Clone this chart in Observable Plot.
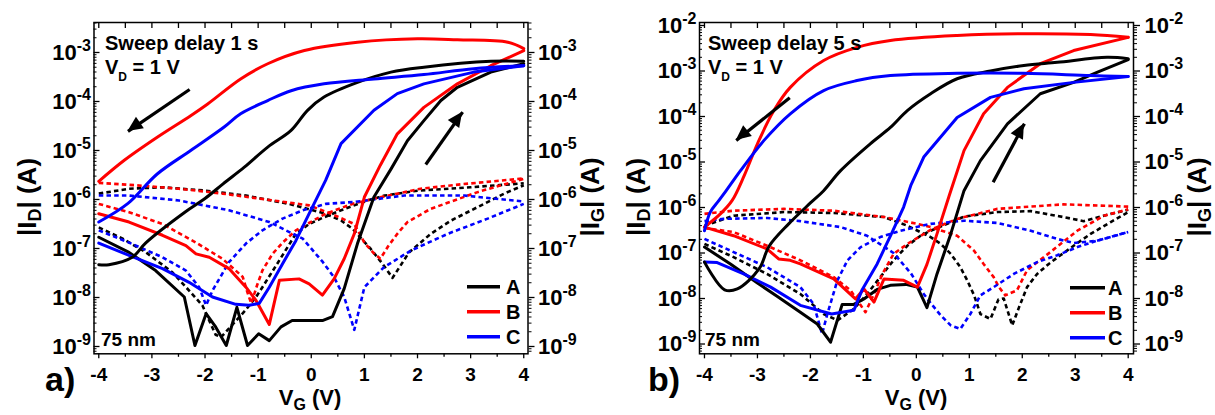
<!DOCTYPE html>
<html><head><meta charset="utf-8">
<script src="https://cdn.jsdelivr.net/npm/d3@7"></script>
<script src="https://cdn.jsdelivr.net/npm/@observablehq/plot@0.6"></script>
<style>
html,body{margin:0;padding:0;background:#fff;}
#wrap{position:relative;width:1215px;height:415px;overflow:hidden;background:#fff;}
#wrap svg{position:absolute;top:0;}
</style></head><body><div id="wrap"></div>
<script>
// ---------- shared axis values ----------
const vgTicks = [-4, -3, -2, -1, 0, 1, 2, 3, 4];
const vgMinor = [-3.5, -2.5, -1.5, -0.5, 0.5, 1.5, 2.5, 3.5];
const decadesA = [-9, -8, -7, -6, -5, -4, -3];
const decadesB = [-9, -8, -7, -6, -5, -4, -3, -2];
const devices = ["A", "B", "C"];
const deviceColors = ["#000000", "#ff0000", "#0000ff"];

// ---------- panel a (sweep delay 1 s) : [V_G (V), log10 |I| (A)] ----------
// drain current |I_D| (solid), forward sweep -4 -> 4 and backward sweep 4 -> -4
const aA_fwd = [[-4,-6.77],[-3.43,-7.08],[-2.93,-7.45],[-2.39,-7.99],[-2.19,-8.98],[-1.98,-8.33],[-1.80,-8.60],[-1.60,-8.98],[-1.40,-8.20],[-1.20,-8.98],[-0.99,-8.74],[-0.79,-8.88],[-0.57,-8.60],[-0.36,-8.47],[0.21,-8.47],[0.40,-8.39],[0.62,-7.82],[0.87,-6.90],[1.18,-5.95],[1.50,-5.38],[1.81,-4.80],[2.12,-4.39],[2.44,-3.98],[2.75,-3.71],[3.38,-3.40],[4,-3.23]];
const aA_bwd = [[4,-3.18],[3.38,-3.18],[2.12,-3.30],[1.5,-3.40],[0.87,-3.61],[0.24,-3.91],[-0.07,-4.18],[-0.38,-4.59],[-0.82,-4.93],[-1.26,-5.34],[-1.66,-5.68],[-2.0,-5.98],[-2.38,-6.26],[-3.11,-6.88],[-3.37,-7.18],[-3.81,-7.33],[-4,-7.33]];
const aB_fwd = [[-4,-6.29],[-3.43,-6.46],[-2.80,-6.73],[-2.36,-6.94],[-2.17,-7.11],[-1.92,-7.18],[-1.55,-7.41],[-1.23,-7.79],[-1.04,-8.06],[-0.79,-8.55],[-0.60,-7.65],[-0.23,-7.62],[-0.04,-7.72],[0.21,-7.95],[0.43,-7.62],[0.62,-7.21],[0.81,-6.70],[1.0,-5.95],[1.3,-5.3],[1.62,-4.66],[2.12,-4.12],[2.75,-3.64],[3.38,-3.27],[4,-2.96]];
const aB_bwd = [[4,-2.92],[3.7,-2.79],[2.75,-2.74],[2.0,-2.72],[0.87,-2.79],[-0.13,-2.96],[-0.82,-3.23],[-1.33,-3.54],[-1.95,-4.05],[-2.27,-4.29],[-2.9,-4.73],[-3.52,-5.2],[-4,-5.63]];
const aC_fwd = [[-4,-6.89],[-3.43,-7.14],[-2.80,-7.41],[-2.30,-7.69],[-1.86,-7.99],[-1.42,-8.14],[-1.17,-8.16],[-0.98,-8.12],[-0.79,-7.79],[-0.54,-7.31],[-0.29,-6.84],[-0.04,-6.29],[0.27,-5.61],[0.56,-4.86],[1.18,-4.18],[1.62,-3.84],[2.12,-3.64],[3.06,-3.40],[4,-3.27]];
const aC_bwd = [[4,-3.27],[3.06,-3.33],[2.12,-3.45],[1.18,-3.54],[0.24,-3.64],[-0.38,-3.78],[-0.82,-3.98],[-1.33,-4.25],[-1.64,-4.52],[-2.27,-5.0],[-2.9,-5.48],[-3.45,-6.08],[-4,-6.46]];
// gate current |I_G| (dotted), two branches per device
const aA_g1 = [[-4,-5.88],[-3.43,-5.78],[-2.80,-5.75],[-1.98,-5.82],[-1.23,-5.92],[-0.42,-6.09],[0.27,-6.29],[0.56,-6.43],[0.78,-6.60],[1.12,-7.01],[1.34,-7.31],[1.53,-7.60],[1.84,-7.08],[2.25,-6.70],[2.63,-6.43],[2.94,-6.26],[3.25,-6.09],[3.63,-5.88],[4.0,-5.71]];
const aA_g2 = [[-4,-6.57],[-3.55,-6.80],[-3.11,-7.08],[-2.61,-7.49],[-2.24,-7.93],[-2.05,-8.16],[-1.80,-8.76],[-1.70,-8.81],[-1.48,-8.55],[-1.23,-8.25],[-1.04,-7.99],[-0.92,-7.79],[-0.64,-7.31],[-0.29,-6.70],[-0.04,-6.50],[0.18,-6.39],[0.56,-6.22],[1.06,-6.02],[1.38,-5.92],[2.0,-5.82],[3.0,-5.75],[4.0,-5.67]];
const aB_g1 = [[-4,-5.66],[-3.30,-5.71],[-2.49,-5.78],[-1.67,-5.88],[-0.92,-5.99],[-0.04,-6.12],[0.37,-6.29],[0.81,-6.50],[1.0,-6.88],[1.18,-7.1],[1.30,-7.21],[1.45,-6.95],[1.62,-6.70],[1.81,-6.46],[2.25,-6.19],[2.69,-6.02],[3.13,-5.85],[3.57,-5.71],[4.0,-5.58]];
const aB_g2 = [[-4,-6.09],[-3.43,-6.26],[-2.80,-6.50],[-2.17,-6.88],[-1.67,-7.21],[-1.29,-7.58],[-1.2,-7.9],[-1.13,-8.12],[-1.02,-7.75],[-0.92,-7.45],[-0.73,-7.11],[-0.54,-6.88],[-0.29,-6.63],[0.27,-6.29],[0.8,-6.08],[1.32,-5.95],[2.06,-5.78],[2.82,-5.69],[4.0,-5.57]];
const aC_g1 = [[-4,-5.92],[-3.43,-5.92],[-2.49,-6.02],[-1.55,-6.22],[-0.79,-6.46],[-0.16,-6.80],[0.22,-7.28],[0.43,-7.59],[0.62,-7.99],[0.81,-8.66],[1.0,-7.79],[1.37,-7.38],[1.88,-7.04],[2.57,-6.70],[3.32,-6.39],[4.0,-6.09]];
const aC_g2 = [[-4,-6.63],[-3.43,-6.88],[-2.80,-7.18],[-2.36,-7.45],[-2.11,-7.79],[-1.98,-8.16],[-1.86,-7.86],[-1.55,-7.28],[-1.23,-6.90],[-0.92,-6.63],[-0.54,-6.39],[-0.16,-6.22],[0.27,-6.09],[0.81,-6.05],[1.75,-5.92],[2.88,-5.92],[3.81,-6.02],[4.0,-6.04]];
// sweep-direction arrows [V1, log10 I1, V2, log10 I2]
const aArrows = [[-2.29,-3.755,-3.45,-4.61],[2.155,-5.286,2.85,-4.218]];

// ---------- panel b (sweep delay 5 s) ----------
const bA_fwd = [[-4,-6.87],[-3.51,-7.24],[-3.0,-7.66],[-2.63,-7.95],[-2.19,-8.3],[-1.87,-8.56],[-1.62,-8.96],[-1.40,-8.13],[-1.18,-8.13],[-0.99,-8.01],[-0.74,-7.80],[-0.49,-7.71],[-0.2,-7.69],[0.02,-7.75],[0.2,-8.20],[0.39,-7.46],[0.65,-6.58],[0.90,-5.63],[1.21,-4.97],[1.72,-4.16],[2.34,-3.50],[2.97,-3.25],[3.41,-3.03],[4,-2.75]];
const bA_bwd = [[4,-2.73],[3.6,-2.70],[2.66,-2.81],[2.03,-2.88],[1.40,-3.0],[0.77,-3.17],[0.27,-3.50],[-0.17,-3.87],[-0.49,-4.24],[-0.87,-4.60],[-1.43,-5.19],[-1.75,-5.63],[-2.0,-5.9],[-2.41,-6.36],[-2.78,-6.85],[-2.97,-7.35],[-3.38,-7.79],[-3.62,-7.81],[-4,-7.20]];
const bB_fwd = [[-4,-6.43],[-3.45,-6.62],[-2.82,-6.91],[-2.60,-7.13],[-2.38,-7.16],[-2.19,-7.24],[-1.56,-7.57],[-1.15,-8.01],[-0.99,-7.79],[-0.80,-8.08],[-0.61,-7.57],[-0.24,-7.60],[0.02,-7.75],[0.2,-7.25],[0.39,-6.58],[0.62,-5.74],[0.9,-4.75],[1.27,-3.94],[1.72,-3.36],[2.34,-2.84],[2.97,-2.55],[4,-2.26]];
const bB_bwd = [[4,-2.26],[3.29,-2.20],[2.03,-2.18],[0.77,-2.22],[-0.49,-2.33],[-1.12,-2.48],[-1.75,-2.77],[-2.38,-3.36],[-2.69,-3.87],[-3.0,-4.60],[-3.25,-5.3],[-3.48,-5.85],[-3.70,-6.14],[-4,-6.43]];
const bC_fwd = [[-4,-7.20],[-3.76,-7.21],[-3.26,-7.46],[-2.75,-7.75],[-2.19,-8.15],[-1.60,-8.34],[-1.18,-8.26],[-1.02,-7.8],[-0.74,-7.24],[-0.46,-6.55],[-0.24,-5.99],[-0.1,-5.5],[0.14,-4.89],[0.77,-4.02],[1.40,-3.58],[2.03,-3.39],[2.97,-3.25],[4,-3.12]];
const bC_bwd = [[4,-3.12],[3.29,-3.10],[2.03,-3.05],[0.77,-3.05],[-0.49,-3.10],[-1.12,-3.21],[-1.75,-3.43],[-2.38,-3.94],[-2.88,-4.53],[-3.32,-5.19],[-3.48,-5.45],[-3.73,-5.85],[-3.89,-6.1],[-4,-6.51]];
const bA_g1 = [[-4,-6.40],[-3.45,-6.18],[-2.5,-6.10],[-1.56,-6.12],[-0.61,-6.21],[-0.17,-6.40],[0.27,-6.65],[0.46,-6.80],[0.65,-7.02],[0.83,-7.31],[0.96,-7.60],[1.09,-7.93],[1.21,-8.34],[1.40,-8.45],[1.55,-8.02],[1.65,-8.0],[1.81,-8.59],[1.94,-8.19],[2.09,-7.75],[2.28,-7.46],[2.50,-7.24],[2.72,-7.05],[2.97,-6.84],[3.29,-6.58],[3.67,-6.32],[4.0,-6.1]];
const bA_g2 = [[-4,-6.8],[-3.45,-7.09],[-2.82,-7.46],[-2.19,-7.90],[-1.75,-8.34],[-1.49,-8.48],[-1.18,-8.23],[-0.93,-7.90],[-0.68,-7.53],[-0.43,-7.16],[-0.17,-6.84],[0.08,-6.62],[0.27,-6.51],[0.9,-6.2],[1.53,-6.10],[2.16,-6.08],[2.78,-6.21],[3.16,-6.30],[3.54,-6.18],[4.0,-6.05]];
const bB_g1 = [[-4,-6.14],[-3.45,-6.07],[-2.50,-6.03],[-1.56,-6.07],[-0.61,-6.21],[0.02,-6.36],[0.27,-6.43],[0.77,-6.62],[1.09,-6.95],[1.27,-7.24],[1.46,-7.53],[1.56,-7.75],[1.68,-7.93],[1.90,-7.82],[2.09,-7.38],[2.53,-6.98],[3.04,-6.51],[3.54,-6.18],[4.0,-6.04]];
const bB_g2 = [[-4,-6.45],[-3.45,-6.54],[-2.82,-6.84],[-2.19,-7.16],[-1.56,-7.53],[-1.24,-7.82],[-1.05,-8.15],[-0.96,-8.30],[-0.80,-7.90],[-0.64,-7.46],[-0.43,-7.02],[-0.17,-6.80],[0.27,-6.49],[0.77,-6.25],[1.53,-6.03],[2.78,-5.93],[4.0,-5.98]];
const bC_g1 = [[-4,-6.3],[-3.64,-6.25],[-2.82,-6.23],[-2.19,-6.30],[-1.43,-6.43],[-0.93,-6.62],[-0.43,-7.0],[-0.1,-7.45],[0.14,-7.90],[0.27,-8.1],[0.46,-8.37],[0.65,-8.59],[0.83,-8.67],[1.02,-8.34],[1.21,-7.93],[1.46,-7.75],[1.84,-7.46],[2.28,-7.20],[2.66,-7.05],[3.04,-6.87],[3.41,-6.73],[4.0,-6.54]];
const bC_g2 = [[-4,-6.69],[-3.45,-6.98],[-2.82,-7.31],[-2.19,-7.75],[-1.94,-8.12],[-1.78,-8.78],[-1.68,-8.34],[-1.49,-7.60],[-1.30,-7.16],[-1.05,-6.87],[-0.68,-6.65],[-0.30,-6.51],[0.27,-6.36],[0.9,-6.29],[1.53,-6.34],[2.16,-6.51],[2.66,-6.69],[2.97,-6.78],[3.41,-6.73],[4.0,-6.54]];
const bArrows = [[-2.39,-3.589,-3.40,-4.527],[1.45,-5.444,2.04,-4.16]];

const FONT = "'Liberation Sans', Arial, Helvetica, sans-serif";
const SVGNS = "http://www.w3.org/2000/svg";

function buildRows(list) {
  return list.flatMap(([id, dev, kind, smooth, pts]) =>
    pts.map(([v, l]) => ({id, dev, kind, smooth, v, i: 10 ** l})));
}

function minorTicks(lo, hi) {
  const out = [];
  for (let d = Math.floor(lo) - 1; d <= Math.ceil(hi); d++)
    for (let m = 2; m <= 9; m++) {
      const v = m * 10 ** d;
      if (Math.log10(v) > lo && Math.log10(v) < hi) out.push(v);
    }
  return out;
}

function addRich(svg, {x, y, transform, anchor = "start", size, parts}) {
  const t = d3.select(svg).append("text")
    .attr("font-family", FONT).attr("font-weight", "bold")
    .attr("text-anchor", anchor).attr("fill", "black")
    .style("white-space", "pre").style("font-size", size + "px");
  if (transform) t.attr("transform", transform); else t.attr("x", x).attr("y", y);
  let shift = 0;
  for (const p of parts) {
    const [txt, off, sz] = typeof p === "string" ? [p, 0, null] : p;
    const ts = t.append("tspan").text(txt);
    if (off - shift) ts.attr("dy", off - shift);
    shift = off;
    if (sz) ts.style("font-size", sz + "px");
  }
  return t;
}

function makePanel(cfg) {
  const rows = buildRows(cfg.series);
  const dec = cfg.decades.map(d => 10 ** d);
  const minors = minorTicks(cfg.yDom[0], cfg.yDom[1]);
  const fmt = d => "10^" + Math.round(Math.log10(d));
  const arrows = cfg.arrows.map(([v1, l1, v2, l2]) => ({v1, v2, i1: 10 ** l1, i2: 10 ** l2}));
  const lineCommon = {x: "v", y: "i", z: "id", stroke: "dev"};
  const svg = Plot.plot({
    width: cfg.width, height: 415,
    marginLeft: cfg.ml, marginRight: cfg.mr, marginTop: 22, marginBottom: 61.7,
    style: {fontFamily: FONT, fontWeight: "bold", fontSize: "18px", color: "black", background: "white", overflow: "visible"},
    x: {domain: cfg.xDom, axis: null},
    y: {type: "log", domain: [10 ** cfg.yDom[0], 10 ** cfg.yDom[1]], axis: null},
    color: {domain: devices, range: deviceColors},
    marks: [
      Plot.line(rows.filter(r => r.kind === "G"), {...lineCommon, strokeWidth: 2.6, strokeDasharray: "4.5,3.2", strokeLinecap: "butt", curve: "linear"}),
      Plot.line(rows.filter(r => r.kind === "D" && !r.smooth), {...lineCommon, strokeWidth: 3, curve: "linear"}),
      Plot.line(rows.filter(r => r.kind === "D" && r.smooth), {...lineCommon, strokeWidth: 3, curve: "catmull-rom"}),
      Plot.link(arrows, {x1: "v1", y1: "i1", x2: "v2", y2: "i2", stroke: "black", strokeWidth: 3.2}),
      Plot.frame({stroke: "black", strokeWidth: 1.5}),
      Plot.axisX({anchor: "bottom", ticks: vgTicks, tickSize: 5, tickPadding: 9, tickFormat: d => String(d), label: null, strokeWidth: 1.3}),
      Plot.axisX({anchor: "bottom", ticks: vgMinor, tickSize: 3.5, fill: "none", label: null, strokeWidth: 1.3}),
      Plot.axisX({anchor: "top", ticks: vgTicks.concat(vgMinor), tickSize: 5, dy: 5, fill: "none", label: null, strokeWidth: 1.3}),
      Plot.axisY({anchor: "left", ticks: dec, tickSize: 0, tickPadding: cfg.lPad, tickFormat: fmt, label: null}),
      Plot.axisY({anchor: "left", ticks: dec, tickSize: 6, dx: 6, fill: "none", label: null, strokeWidth: 1.3}),
      Plot.axisY({anchor: "left", ticks: minors, tickSize: 3, dx: 3, fill: "none", label: null, strokeWidth: 1}),
      Plot.axisY({anchor: "right", ticks: dec, tickSize: 6, fill: "none", label: null, strokeWidth: 1.3}),
      Plot.axisY({anchor: "right", ticks: minors, tickSize: 3, fill: "none", label: null, strokeWidth: 1}),
      Plot.axisY({anchor: "right", ticks: dec, tickSize: 0, tickPadding: cfg.rPad, tickFormat: fmt, label: null})
    ]
  });
  // tick label styling; superscript exponents
  svg.querySelectorAll("text").forEach(t => {
    const s = t.textContent;
    const m = /^10\^(-?\d+)$/.exec(s);
    if (m) {
      t.textContent = "";
      t.setAttribute("font-size", "22");
      t.style.fontSize = "22px";
      t.style.fontFamily = FONT;
      t.style.fontWeight = "bold";
      const a = document.createElementNS(SVGNS, "tspan");
      a.textContent = "10"; a.style.fontSize = "22px"; t.appendChild(a);
      const b = document.createElementNS(SVGNS, "tspan");
      b.textContent = m[1]; b.setAttribute("dy", "-9"); b.style.fontSize = "16px"; t.appendChild(b);
    } else if (/^-?\d$/.test(s)) {
      t.setAttribute("font-size", "19");
      t.style.fontSize = "19px";
      t.style.fontFamily = FONT;
      t.style.fontWeight = "bold";
    }
  });
  // filled arrow heads, placed through the plot's own scales
  const sx = svg.scale("x"), sy = svg.scale("y");
  arrows.forEach(a => {
    const x1 = sx.apply(a.v1), y1 = sy.apply(a.i1), x2 = sx.apply(a.v2), y2 = sy.apply(a.i2);
    const len = Math.hypot(x2 - x1, y2 - y1), ux = (x2 - x1) / len, uy = (y2 - y1) / len;
    const hl = 15, hw = 7;
    const bx = x2 - ux * hl, by = y2 - uy * hl;
    const pts = [[x2, y2], [bx - uy * hw, by + ux * hw], [bx + uy * hw, by - ux * hw]];
    d3.select(svg).append("polygon").attr("points", pts.map(p => p.join(",")).join(" ")).attr("fill", "black");
  });
  const L = cfg.deco;
  devices.forEach((dv, k) => {
    const yy = L.legY[k];
    d3.select(svg).append("line").attr("x1", L.legX[0]).attr("x2", L.legX[1]).attr("y1", yy).attr("y2", yy)
      .attr("stroke", deviceColors[k]).attr("stroke-width", 3.5);
    addRich(svg, {x: L.legX[2], y: yy + 7, size: 20, parts: [dv]});
  });
  addRich(svg, {x: L.txtX, y: 49.5, size: 20, parts: [cfg.title]});
  addRich(svg, {x: L.txtX, y: 74, size: 20, parts: ["V", ["D", 7, 12], [" = 1 V", 0]]});
  addRich(svg, {x: L.nmX, y: 345.5, size: 19, parts: ["75 nm"]});
  addRich(svg, {x: L.xTitle, y: 405, anchor: "middle", size: 22, parts: ["V", ["G", 5, 16], [" (V)", 0]]});
  addRich(svg, {transform: `translate(${L.yL},197) rotate(-90)`, anchor: "middle", size: 26, parts: ["|I", ["D", 5, 18], ["| (A)", 0]]});
  addRich(svg, {transform: `translate(${L.yR},197) rotate(-90)`, anchor: "middle", size: 26, parts: ["|I", ["G", 5, 18], ["| (A)", 0]]});
  addRich(svg, {x: L.tagX, y: 391, size: 34, parts: [cfg.tag]});
  return svg;
}

const panelA = makePanel({
  width: 610, ml: 93.5, mr: 82.5, xDom: [-4.09, 4.08], yDom: [-9.149, -2.388],
  decades: decadesA, lPad: 3, rPad: 10, title: "Sweep delay 1 s", tag: "a)",
  series: [
    ["aA_g1","A","G",0,aA_g1],["aA_g2","A","G",0,aA_g2],["aB_g1","B","G",0,aB_g1],["aB_g2","B","G",0,aB_g2],["aC_g1","C","G",0,aC_g1],["aC_g2","C","G",0,aC_g2],
    ["aA_fwd","A","D",0,aA_fwd],["aA_bwd","A","D",1,aA_bwd],["aB_fwd","B","D",0,aB_fwd],["aB_bwd","B","D",1,aB_bwd],["aC_fwd","C","D",0,aC_fwd],["aC_bwd","C","D",1,aC_bwd]
  ],
  arrows: aArrows,
  deco: {legX: [467, 500, 506], legY: [286.7, 311.7, 336.7], txtX: 105, nmX: 101, xTitle: 310, yL: 36, yR: 599, tagX: 45}
});
const panelB = makePanel({
  width: 605, ml: 89, mr: 82, xDom: [-4.094, 4.10], yDom: [-9.215, -1.934],
  decades: decadesB, lPad: 3, rPad: 11, title: "Sweep delay 5 s", tag: "b)",
  series: [
    ["bA_g1","A","G",0,bA_g1],["bA_g2","A","G",0,bA_g2],["bB_g1","B","G",0,bB_g1],["bB_g2","B","G",0,bB_g2],["bC_g1","C","G",0,bC_g1],["bC_g2","C","G",0,bC_g2],
    ["bA_fwd","A","D",0,bA_fwd],["bA_bwd","A","D",1,bA_bwd],["bB_fwd","B","D",0,bB_fwd],["bB_bwd","B","D",1,bB_bwd],["bC_fwd","C","D",0,bC_fwd],["bC_bwd","C","D",1,bC_bwd]
  ],
  arrows: bArrows,
  deco: {legX: [460, 495, 498], legY: [287.7, 312.7, 337.7], txtX: 98, nmX: 95, xTitle: 306, yL: 35, yR: 596, tagX: 38}
});
panelA.style.left = "0px";
panelB.style.left = "610px";
document.getElementById("wrap").append(panelA, panelB);
</script></body></html>
